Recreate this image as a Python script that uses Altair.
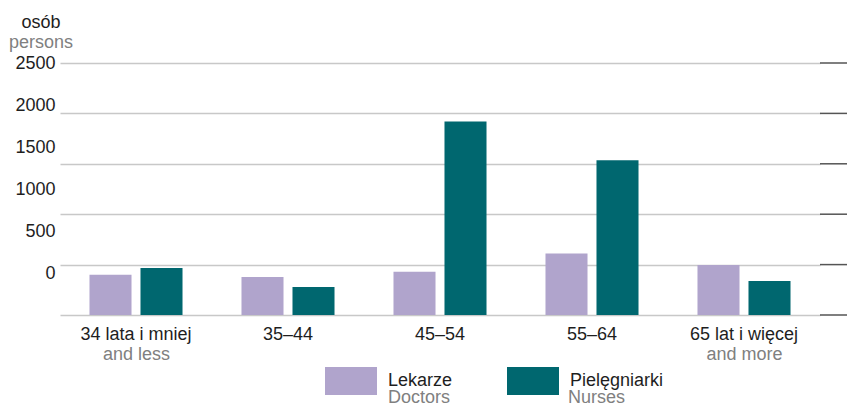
import altair as alt
import pandas as pd

groups = ["34 lata i mniej", "35–44", "45–54", "55–64", "65 lat i więcej"]
groups_en = ["and less", "", "", "", "and more"]
series = ["Lekarze", "Pielęgniarki"]
series_en = ["Doctors", "Nurses"]
doctors = [400, 377, 430, 609, 497]
nurses = [467, 278, 1919, 1535, 338]
y_ticks = [0, 500, 1000, 1500, 2000, 2500]

FONT = "Liberation Sans"
DARK = "#1e1e1e"
GREY = "#808080"
PURPLE = "#b0a4cc"
TEAL = "#00676f"
RECT = "M-1,-0.538H1V0.538H-1Z"

rows = []
for g, d, n in zip(groups, doctors, nurses):
    rows.append({"grp": g, "series": series[0], "value": d})
    rows.append({"grp": g, "series": series[1], "value": n})
bars_df = pd.DataFrame(rows)

aux_df = pd.DataFrame({
    "grp": groups,
    "v": y_ticks[:len(groups)],
    "en": [series_en[i % 2] for i in range(len(groups))],
})
ticks_df = pd.DataFrame({"t": y_ticks})

x_scale = dict(domain=groups, range=[0, 760], paddingInner=0.388, paddingOuter=0.194)

bars = alt.Chart(bars_df).mark_bar(stroke=None).encode(
    x=alt.X("grp:N", sort=groups, scale=alt.Scale(**x_scale),
            axis=alt.Axis(title=None, labelAngle=0, labelFontSize=18, labelFont=FONT,
                          labelColor=DARK, labelPadding=10, ticks=False, tickSize=0,
                          domain=False, grid=False)),
    xOffset=alt.XOffset("series:N", sort=series,
                        scale=alt.Scale(domain=series, paddingInner=0.176, paddingOuter=0)),
    y=alt.Y("value:Q", scale=alt.Scale(domain=[0, 2500], nice=False),
            axis=alt.Axis(orient="left", title=None, labels=False, ticks=False, tickSize=0,
                          domain=False, values=y_ticks, grid=True, gridColor="#c8c8c8",
                          gridWidth=1.5)),
    color=alt.Color("series:N", sort=series,
                    scale=alt.Scale(domain=series, range=[PURPLE, TEAL]),
                    legend=alt.Legend(orient="none", legendX=265, legendY=292,
                                      direction="horizontal", title=None,
                                      symbolType=RECT, symbolSize=2704, symbolStrokeWidth=0,
                                      symbolOpacity=1, labelFontSize=18, labelFont=FONT,
                                      labelColor=DARK, labelOffset=11, columnPadding=54)),
)

en_expr = "[" + ",".join("'" + s + "'" for s in groups_en) + "][indexof([" + \
    ",".join("'" + s + "'" for s in groups) + "], datum.value)]"

aux = alt.Chart(aux_df).mark_point(opacity=0).encode(
    x=alt.X("grp:N", sort=groups, scale=alt.Scale(**x_scale),
            axis=alt.Axis(orient="bottom", title=None, labelAngle=0, labelFontSize=18,
                          labelFont=FONT, labelColor=GREY, labelPadding=10, ticks=False,
                          tickSize=0, domain=False, grid=False, labelExpr=en_expr,
                          offset=20)),
    y=alt.Y("v:Q", scale=alt.Scale(domain=[-500, 2500], nice=False, zero=False),
            axis=alt.Axis(orient="left", title=None, values=y_ticks, format="d",
                          ticks=False, tickSize=0,
                          domain=False, grid=False, labelFontSize=18, labelFont=FONT,
                          labelColor=DARK, labelPadding=5)),
    shape=alt.Shape("en:N", sort=series_en,
                    scale=alt.Scale(domain=series_en, range=[RECT, RECT]),
                    legend=alt.Legend(orient="none", legendX=265, legendY=309,
                                      direction="horizontal", title=None,
                                      symbolSize=2704, symbolOpacity=0, symbolStrokeWidth=0,
                                      labelFontSize=18, labelFont=FONT, labelColor=GREY,
                                      labelOffset=11, columnPadding=54)),
)

ends = alt.Chart(ticks_df).mark_rule(color="#555555", strokeWidth=1.5).encode(
    y=alt.Y("t:Q", scale=alt.Scale(domain=[0, 2500], nice=False), axis=None),
    x=alt.value(760),
    x2=alt.value(787),
)

chart = alt.layer(bars, aux, ends).resolve_scale(
    x="independent", y="independent"
).properties(
    width=787,
    height=252,
    autosize=alt.AutoSizeParams(type="none"),
    padding={"left": 52, "top": 55, "right": 0, "bottom": 88},
    title=alt.TitleParams(text="osób", subtitle="persons", anchor="start", align="center",
                          frame="group", dx=-19, fontSize=18, font=FONT,
                          fontWeight="normal", color=DARK,
                          subtitleFontSize=18, subtitleFont=FONT, subtitleColor=GREY,
                          subtitlePadding=2, offset=2),
).configure_view(stroke=None)

chart.save("out.html", embed_options={"renderer": "svg", "actions": False})
